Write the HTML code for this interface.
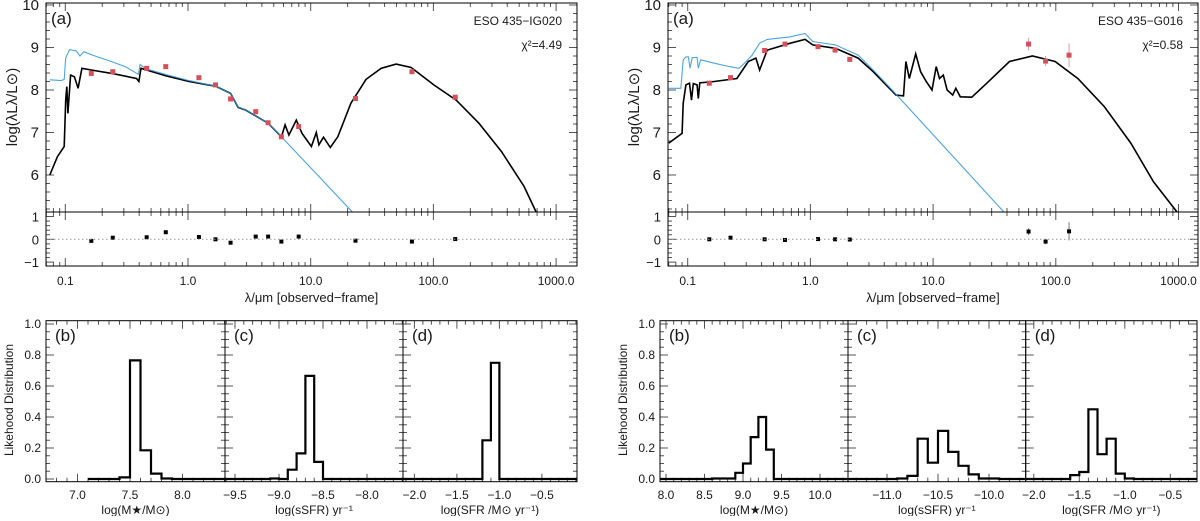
<!DOCTYPE html>
<html><head><meta charset="utf-8"><style>
html,body{margin:0;padding:0;background:#fff;}
svg text{font-family:"Liberation Sans",sans-serif;fill:#1a1a1a;}
</style></head><body>
<svg id="chart" width="1200" height="516" viewBox="0 0 1200 516" xmlns="http://www.w3.org/2000/svg"></svg>
<script>
// ===== Left SED (ESO 435-IG020) =====
const L_blackLog=[-1.126,-1.064,-1.009,-0.997,-0.988,-0.979,-0.957,-0.926,-0.896,-0.865,-0.788,-0.604,-0.42,-0.40,-0.383,-0.175,0.009,0.224,0.347,0.408,0.469,0.653,0.761,0.791,0.822,0.883,0.929,1.006,1.046,1.067,1.104,1.160,1.221,1.328,1.451,1.574,1.696,1.819,2.003,2.187,2.371,2.555,2.739,2.837];
const L_blackVal=[6.0,6.43,6.67,7.76,8.08,7.45,8.35,8.31,8.04,8.51,8.47,8.38,8.27,8.20,8.51,8.33,8.20,8.09,7.92,7.59,7.53,7.22,6.90,7.18,6.94,7.29,6.98,6.67,7.0,6.71,6.89,6.65,6.90,7.69,8.25,8.51,8.61,8.53,8.12,7.76,7.22,6.55,5.73,5.13];
const L_blueLog=[-1.126,-1.034,-1.009,-0.997,-0.966,-0.911,-0.88,-0.85,-0.758,-0.635,-0.512,-0.405,-0.39,-0.344,-0.175,0.009,0.224,0.347,0.408,0.469,0.653,0.761,1.34];
const L_blueVal=[8.24,8.22,8.25,8.75,8.95,8.92,8.80,8.9,8.8,8.68,8.55,8.37,8.6,8.5,8.36,8.22,8.09,7.92,7.6,7.53,7.22,6.9,5.13];
const L_ptLog=[-0.788,-0.613,-0.337,-0.181,0.089,0.224,0.347,0.552,0.653,0.761,0.902,1.365,1.825,2.178];
const L_ptVal=[8.39,8.43,8.51,8.55,8.29,8.12,7.79,7.49,7.23,6.90,7.14,7.80,8.43,7.83];
const L_ptErr=[0,0,0,0,0,0,0,0,0,0,0,0,0,0];
const L_res=[-0.07,0.07,0.09,0.31,0.1,0.0,-0.15,0.12,0.12,-0.1,0.12,-0.06,-0.1,0.01];
const L_resErr=[0.05,0.05,0.05,0.05,0.05,0.05,0.05,0.05,0.05,0.05,0.05,0.05,0.05,0.05];
// ===== Right SED (ESO 435-G016) =====
const R_blackLog=[-1.154,-1.046,-1.037,-1.015,-0.985,-0.969,-0.954,-0.923,-0.914,-0.901,-0.784,-0.599,-0.506,-0.444,-0.414,-0.352,-0.167,-0.043,0.019,0.204,0.389,0.512,0.698,0.759,0.778,0.806,0.858,0.898,0.944,0.991,1.025,1.052,1.083,1.114,1.160,1.185,1.222,1.315,1.438,1.623,1.809,1.994,2.179,2.395,2.611,2.796,2.988];
const R_blackVal=[6.75,6.98,7.69,8.12,8.16,7.76,8.15,8.12,7.80,8.17,8.2,8.27,8.67,8.75,8.47,8.94,9.1,9.19,9.06,8.98,8.75,8.43,7.88,7.86,8.67,8.27,8.85,8.43,8.2,8.0,8.55,8.27,8.35,8.0,7.88,8.04,7.84,7.83,8.16,8.67,8.80,8.67,8.27,7.61,6.75,5.84,5.13];
const R_blueLog=[-1.154,-1.056,-1.037,-1.015,-0.994,-0.981,-0.963,-0.923,-0.914,-0.895,-0.784,-0.66,-0.583,-0.537,-0.475,-0.414,-0.352,-0.167,-0.043,0.019,0.204,0.389,0.512,0.698,1.577];
const R_blueVal=[8.04,8.04,8.71,8.78,8.78,8.51,8.76,8.77,8.51,8.71,8.63,8.55,8.51,8.63,8.82,9.10,9.19,9.25,9.33,9.14,9.06,8.82,8.47,7.90,5.13];
const R_ptLog=[-0.824,-0.651,-0.373,-0.207,0.062,0.201,0.321,1.778,1.917,2.108];
const R_ptVal=[8.16,8.29,8.93,9.08,9.02,8.94,8.72,9.08,8.68,8.82];
const R_ptErr=[0,0,0,0,0,0,0,0.15,0.12,0.28];
const R_res=[0.0,0.07,0.0,-0.03,0.01,0.0,-0.01,0.34,-0.1,0.35];
const R_resErr=[0.04,0.04,0.04,0.04,0.04,0.04,0.04,0.15,0.12,0.4];
// ===== Likelihood histograms (bin left edges, width 0.1) =====
const LB_edges=[7.1,7.2,7.3,7.4,7.5,7.6,7.7,7.8,7.9];
const LB_vals=[0.0,0.0,0.0,0.01,0.765,0.185,0.035,0.003,0.0];
const LC_edges=[-9.2,-9.1,-9.0,-8.9,-8.8,-8.7,-8.6,-8.5];
const LC_vals=[0.0,0.003,0.0,0.06,0.165,0.665,0.11,0.0];
const LD_edges=[-1.3,-1.2,-1.1,-1.0];
const LD_vals=[0.0,0.25,0.75,0.0];
const RB_edges=[8.6,8.7,8.8,8.9,9.0,9.1,9.2,9.3,9.4];
const RB_vals=[0.003,0.003,0.003,0.04,0.10,0.27,0.40,0.19,0.0];
const RC_edges=[-10.9,-10.8,-10.7,-10.6,-10.5,-10.4,-10.3,-10.2,-10.1,-10.0,-9.9];
const RC_vals=[0.003,0.02,0.26,0.105,0.31,0.175,0.085,0.03,0.003,0.003,0.0];
const RD_edges=[-1.6,-1.5,-1.4,-1.3,-1.2,-1.1,-1.0,-0.9];
const RD_vals=[0.025,0.045,0.45,0.16,0.26,0.035,0.003,0.0];
const LB_ticks=[7.0,7.5,8.0], LC_ticks=[-9.5,-9.0,-8.5,-8.0], LD_ticks=[-2.0,-1.5,-1.0,-0.5];
const RB_ticks=[8.0,8.5,9.0,9.5,10.0], RC_ticks=[-11.0,-10.5,-10.0], RD_ticks=[-2.0,-1.5,-1.0,-0.5];
const H_yticks=[0.0,0.2,0.4,0.6,0.8,1.0];
const SED_xticks=[-1,0,1,2,3], SED_xlabels=["0.1","1.0","10.0","100.0","1000.0"];
const SED_yticks=[6,7,8,9,10];

const NS="http://www.w3.org/2000/svg";
const svg=document.getElementById('chart');
function mk(tag,attrs,parent){const e=document.createElementNS(NS,tag);for(const k in attrs)e.setAttribute(k,attrs[k]);(parent||svg).appendChild(e);return e;}
function fmt(v){return (v<0?"\u2212":"")+Math.abs(v).toFixed(1);}

function sedPanel(px01,x0,x1,bx,by,lx,ly,ex,ey,ee,rr,re,galaxy,chi,side){
  const DEC=122.7;
  const X=l=>px01+(l+1)*DEC;
  const Y=v=>90-42.5*(v-8);
  const R=r=>239.3-22.8*r;
  const g=mk('g',{});
  
  
  const cid='clip'+side;
  const cp=mk('clipPath',{id:cid},g); mk('rect',{x:x0,y:3,width:x1-x0,height:209},cp);
  const tk=mk('g',{stroke:'#555','stroke-width':1},g);
  
  
  const lmin=-1-(px01-x0)/DEC, lmax=lmin+(x1-x0)/DEC;
  for(let d=-2;d<=3;d++)for(let k=1;k<=9;k++){const l=d+Math.log10(k);if(l<lmin||l>lmax)continue;const x=X(l),len=k==1?8:4;
    mk('line',{x1:x,y1:3,x2:x,y2:3+len},tk);mk('line',{x1:x,y1:212,x2:x,y2:212-len},tk);mk('line',{x1:x,y1:266,x2:x,y2:266-len},tk);mk('line',{x1:x,y1:212,x2:x,y2:212+len},tk);}
  for(let v=5.2;v<10.05;v+=0.2){const y=Y(v),maj=Math.abs(v-Math.round(v))<0.01,len=maj?8:4;mk('line',{x1:x0,y1:y,x2:x0+len,y2:y},tk);mk('line',{x1:x1,y1:y,x2:x1-len,y2:y},tk);}
  for(let r=-1.2;r<=1.21;r+=0.2){const y=R(r);if(y<212||y>266)continue;const maj=Math.abs(r-Math.round(r))<0.01,len=maj?8:4;mk('line',{x1:x0,y1:y,x2:x0+len,y2:y},tk);mk('line',{x1:x1,y1:y,x2:x1-len,y2:y},tk);}
  const blk=mk('polyline',{points:bx.map((l,i)=>X(l).toFixed(1)+','+Y(by[i]).toFixed(1)).join(' '),fill:'none',stroke:'#000','stroke-width':1.6,'clip-path':'url(#'+cid+')'},g);
  
  
  const blu=mk('polyline',{points:lx.map((l,i)=>X(l).toFixed(1)+','+Y(ly[i]).toFixed(1)).join(' '),fill:'none',stroke:'#2f93e0','stroke-width':1.1,'stroke-opacity':0.85,'clip-path':'url(#'+cid+')'},g);
  
  
  ex.forEach((l,i)=>{const x=X(l),y=Y(ey[i]);
    if(ee[i]>0){const eb=mk('line',{x1:x,y1:Y(ey[i]+ee[i]),x2:x,y2:Y(ey[i]-ee[i]),stroke:'#d9a0a0','stroke-width':1},g);
      
      }
    const p=mk('rect',{x:x-2.5,y:y-2.5,width:5,height:5,fill:'#d4505a'},g);
    
    
    const ry=R(rr[i]);
    const reb=mk('line',{x1:x,y1:R(rr[i]+re[i]),x2:x,y2:R(rr[i]-re[i]),stroke:'#777','stroke-width':1},g);
    
    
    const rp=mk('rect',{x:x-2,y:ry-2,width:4,height:4,fill:'#000'},g);
    
    
  });
  const zl=mk('line',{x1:x0,y1:R(0),x2:x1,y2:R(0),stroke:'#999','stroke-width':1,'stroke-dasharray':'1.5,2.5'},g);
  
  
  const fm=mk('rect',{x:x0,y:3,width:x1-x0,height:209,fill:'none',stroke:'#000','stroke-width':1},g);
  
  
  const fr=mk('rect',{x:x0,y:212,width:x1-x0,height:54,fill:'none',stroke:'#000','stroke-width':1},g);
  
  
  SED_xticks.forEach((l,i)=>{const t=mk('text',{x:X(l),y:285,'font-size':12,'text-anchor':'middle'},g);t.textContent=SED_xlabels[i];
    
    });
  SED_yticks.forEach(v=>{const t=mk('text',{x:x0-7,y:Y(v)+5,'font-size':15,'text-anchor':'end'},g);t.textContent=String(v);
    
    });
  [1,0,-1].forEach(r=>{const t=mk('text',{x:x0-7,y:R(r)+5,'font-size':13,'text-anchor':'end'},g);t.textContent=r<0?"\u22121":String(r);
    
    });
  const xt=mk('text',{x:(x0+x1)/2,y:302,'font-size':13,'text-anchor':'middle'},g);xt.textContent="\u03bb/\u03bcm [observed\u2212frame]";
  
  
  const yt=mk('text',{x:0,y:0,'font-size':15,'text-anchor':'middle',transform:'translate('+(x0-29)+',107) rotate(-90)'},g);yt.textContent="log(\u03bbL\u03bb/L\u2299)";
  
  
  const pa=mk('text',{x:x0+5,y:24,'font-size':17},g);pa.textContent="(a)";
  
  
  const gn=mk('text',{x:x1-15,y:25,'font-size':12,'text-anchor':'end'},g);gn.textContent=galaxy;
  
  
  const ch=mk('text',{x:x1-15,y:49,'font-size':12,'text-anchor':'end'},g);ch.textContent="\u03c7\u00b2="+chi;
  
  
}

function histPanel(x0,x1,ref,scale,edges,vals,ticks,lab,title,side,showY){
  const X=v=>ref[1]+(v-ref[0])*scale;
  const Y=h=>479-155*h;
  const g=mk('g',{});
  
  
  const tk=mk('g',{stroke:'#555','stroke-width':1},g);
  for(let h=0;h<=1.001;h+=0.05){const y=Y(h),maj=Math.round(h*100)%20==0,len=maj?8:4;mk('line',{x1:x0,y1:y,x2:x0+len,y2:y},tk);mk('line',{x1:x1,y1:y,x2:x1-len,y2:y},tk);}
  const vmin=ref[0]+(x0-ref[1])/scale,vmax=ref[0]+(x1-ref[1])/scale;
  for(let v=Math.ceil(vmin*10)/10;v<=vmax;v+=0.1){const x=X(v),maj=Math.abs(v*2-Math.round(v*2))<0.01,len=maj?8:4;mk('line',{x1:x,y1:481.7,x2:x,y2:481.7-len},tk);mk('line',{x1:x,y1:320.7,x2:x,y2:320.7+len},tk);}
  let pts=[[X(edges[0]),Y(0)]];
  if(lab=="c"||lab=="d"||side=="right")pts=[[x0,Y(0)],[X(edges[0]),Y(0)]];
  edges.forEach((e,i)=>{pts.push([X(e),Y(vals[i])]);pts.push([X(e+0.1),Y(vals[i])]);});
  pts.push([X(edges[edges.length-1]+0.1),Y(0)]);pts.push([x1,Y(0)]);
  const hp=mk('polyline',{points:pts.map(p=>p[0].toFixed(1)+','+p[1].toFixed(1)).join(' '),fill:'none',stroke:'#000','stroke-width':2.2},g);
  
  
  const fm=mk('rect',{x:x0,y:320.7,width:x1-x0,height:161,fill:'none',stroke:'#000','stroke-width':1},g);
  
  
  ticks.forEach(v=>{const t=mk('text',{x:X(v),y:499,'font-size':12,'text-anchor':'middle'},g);t.textContent=fmt(v);
    
    });
  const xt=mk('text',{x:(x0+x1)/2,y:514,'font-size':12,'text-anchor':'middle'},g);xt.textContent=title;
  
  
  const pl=mk('text',{x:x0+9,y:341,'font-size':17},g);pl.textContent="("+lab+")";
  
  
  if(showY){
    H_yticks.forEach(h=>{const t=mk('text',{x:x0-5,y:Y(h)+4,'font-size':12,'text-anchor':'end'},g);t.textContent=h.toFixed(1);
      
      });
    const yt=mk('text',{x:0,y:0,'font-size':12,'text-anchor':'middle',transform:'translate('+(x0-33)+',400) rotate(-90)'},g);yt.textContent="Likehood Distribution";
    
    
  }
}

sedPanel(65.3,46,577,L_blackLog,L_blackVal,L_blueLog,L_blueVal,L_ptLog,L_ptVal,L_ptErr,L_res,L_resErr,"ESO 435\u2212IG020","4.49","left");
sedPanel(687.7,668,1198,R_blackLog,R_blackVal,R_blueLog,R_blueVal,R_ptLog,R_ptVal,R_ptErr,R_res,R_resErr,"ESO 435\u2212G016","0.58","right");

histPanel(46,225,[7.5,130],105,LB_edges,LB_vals,LB_ticks,"b","log(M\u2605/M\u2299)","left",true);
histPanel(225,403,[-9.5,235],88,LC_edges,LC_vals,LC_ticks,"c","log(sSFR) yr\u207b\u00b9","left",false);
histPanel(403,577,[-1.0,499.4],85,LD_edges,LD_vals,LD_ticks,"d","log(SFR /M\u2299 yr\u207b\u00b9)","left",false);
histPanel(660,848,[9.0,743],77,RB_edges,RB_vals,RB_ticks,"b","log(M\u2605/M\u2299)","right",true);
histPanel(848,1025.7,[-10.5,938],102,RC_edges,RC_vals,RC_ticks,"c","log(sSFR) yr\u207b\u00b9","right",false);
histPanel(1025.7,1197,[-1.5,1079.3],91,RD_edges,RD_vals,RD_ticks,"d","log(SFR /M\u2299 yr\u207b\u00b9)","right",false);
</script>
</body></html>
